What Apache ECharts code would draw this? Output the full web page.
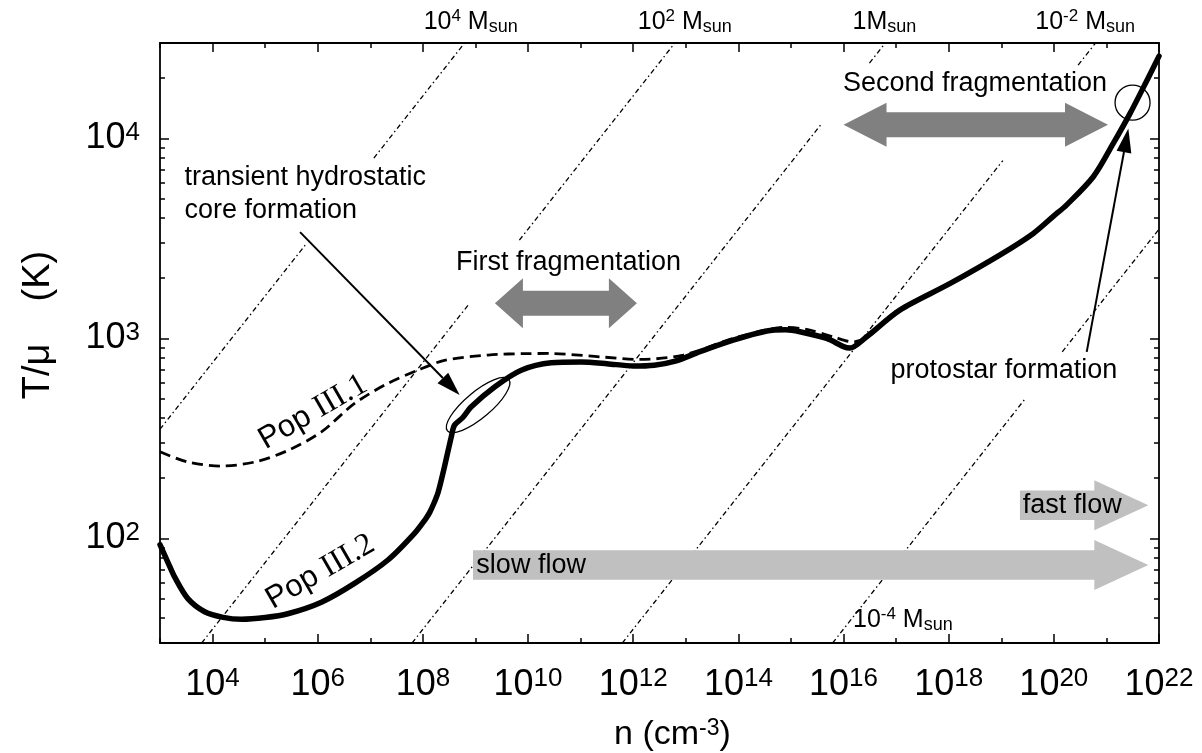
<!DOCTYPE html>
<html><head><meta charset="utf-8">
<script src="https://cdn.jsdelivr.net/npm/echarts@6/dist/echarts.min.js"></script>
<style>html,body{margin:0;padding:0;background:#fff}#c{width:1202px;height:753px}</style>
</head><body><div id="c"></div>
<script>
// ---------------- data (log10 n  and  T/mu in K) ----------------
const pop2LogN = [3.0,3.15,3.28,3.53,3.85,4.2,4.55,5.0,5.43,6.07,6.7,7.335,7.84,8.05,8.13,8.22,8.29,8.41,8.54,8.6,8.75,8.92,9.37,9.87,10.44,11.0,11.5,12.0,12.4,12.8,13.27,13.9,14.54,14.9,15.17,15.68,16.0,16.12,16.44,17.07,18.02,18.97,19.61,20.0,20.24,20.75,21.13,21.45,21.77,22.0];
const pop2T    = [93,76,64,50,43,40.3,39.4,40.2,42,48,59.6,78,106,125,135,152,170,228,322,368,400,455,573,693,755,762,748,728,735,770,858,980,1090,1105,1080,1000,910,895,1019,1385,1878,2610,3350,4100,4640,6430,9440,13340,19500,25800];

const pop1LogN = [3.0,3.53,4.16,4.8,5.43,6.07,6.7,7.335,7.9,8.41,9.24,10.0,10.41,11.36,12.12,12.95,13.9,14.5,14.85,15.3,15.8,16.18,16.5,17.0];
const pop1T    = [271,241,230,241,275,341,473,596,693,776,826,840,841,809,785,826,1000,1100,1135,1110,1019,961,1035,1370];

// constant Jeans-mass lines (dash-dot), drawn as visible segments [logn, T]
const jeansMass = ['10^4','10^2','1','10^-2','10^-4'];
const jeansSegLogN = [
  [[3.0, 5.76],   [7.067, 8.793]],
  [[3.792, 8.861],[9.835, 12.792]],
  [[7.794, 15.578],[16.493, 16.794]],
  [[11.793, 19.03],[20.462, 20.793]],
  [[15.792, 19.46],[20.16, 22.0]]
];
const jeansSegT = [
  [[351.6, 2924], [7973, 30000]],
  [[30, 1468],    [3099, 30000]],
  [[30, 11796],   [23800, 30000]],
  [[30, 7751],    [23260, 30000]],
  [[30, 501],     [857, 3516]]
];
// mass-label anchors
const massLabelLogN = [8.909, 12.981, 16.777, 20.595, 16.18];
const massLabelT    = [38150, 38150, 38150, 38150, 39];

// axis ticks
const xMajorExp = [4,6,8,10,12,14,16,18,20,22];
const xMinorExp = [3,5,7,9,11,13,15,17,19,21];
const yMajor = [100,1000,10000];
const yMinor = [40,50,60,70,80,90,200,300,400,500,600,700,800,900,2000,3000,4000,5000,6000,7000,8000,9000,20000,30000];

// block arrows
const fragArrowLogN = [[9.37, 12.07],[16.0, 21.03]];
const fragArrowT = [1500, 11720];
const flowArrowLogN = [[8.953, 21.797],[19.355, 21.797]];
const flowArrowT = [73.6, 146.7];

// pointer arrows [start, tip]
const pointerLogN = [[5.664, 8.699],[20.625, 21.417]];
const pointerT = [[3400, 520.6],[857, 11220]];

// rings: ellipse and circle centres
const ringLogN = [9.05, 21.497];
const ringT = [464, 15100];

// annotation texts
const noteTexts = ['transient hydrostatic\ncore formation','First fragmentation','Second fragmentation','protostar formation','slow flow','fast flow'];
const noteLogN = [3.466, 10.771, 18.5, 19.05, 9.017, 19.41];
const noteT = [5297, 2390, 18770, 692, 73.6, 146.7];

const popTexts = ['Pop III.1','Pop III.2'];
const popLogN = [5.91, 6.05];
const popT = [428, 68];

// ---------------- chart ----------------
const FONT = '"Liberation Sans", Arial, Helvetica, sans-serif';
const SERIF = '"Liberation Serif", "Times New Roman", serif';
const P = v => Math.pow(10, v);
const el = document.getElementById('c');
const chart = echarts.init(el, null, {renderer: 'canvas'});

const tickRich = {
  b: {fontSize: 36, lineHeight: 38, fontFamily: FONT, color: '#000'},
  s: {fontSize: 26, lineHeight: 4, verticalAlign: 'top', fontFamily: FONT, color: '#000'}
};
const expFmt = v => '{b|10}{s|' + Math.round(Math.log10(v)) + '}';

function xAx(pos, vals, len, line, labels) {
  return {
    type: 'log', logBase: 10, min: 1e3, max: 1e22, position: pos, gridIndex: 0,
    axisLine: {show: line, onZero: false, lineStyle: {color: '#000', width: 1.8}},
    axisTick: {show: true, inside: true, length: len, customValues: vals, lineStyle: {color: '#000', width: 1.5}},
    axisLabel: labels ? {show: true, customValues: vals, formatter: expFmt, rich: tickRich, margin: 23} : {show: false},
    splitLine: {show: false}, minorTick: {show: false}
  };
}
function yAx(pos, vals, len, line, labels) {
  return {
    type: 'log', logBase: 10, min: 30, max: 30000, position: pos, gridIndex: 0,
    axisLine: {show: line, onZero: false, lineStyle: {color: '#000', width: 1.8}},
    axisTick: {show: true, inside: true, length: len, customValues: vals, lineStyle: {color: '#000', width: 1.5}},
    axisLabel: labels ? {show: true, customValues: vals, formatter: expFmt, rich: tickRich, margin: 20} : {show: false},
    splitLine: {show: false}, minorTick: {show: false}
  };
}

const xMaj = xMajorExp.map(P), xMin = xMinorExp.map(P);
const xAxes = [xAx('bottom', xMaj, 9, true, true), xAx('bottom', xMin, 5, false, false),
               xAx('top', xMaj, 9, true, false), xAx('top', xMin, 5, false, false)];
xAxes[0].name = '{n|n (cm}{s|-3}{n|)}';
xAxes[0].nameLocation = 'middle';
xAxes[0].nameGap = 74;
xAxes[0].nameTextStyle = {padding: [0, 0, 0, 26], rich: {
  n: {fontSize: 34, lineHeight: 36, fontFamily: FONT, color: '#000'},
  s: {fontSize: 23, lineHeight: 24, verticalAlign: 'top', fontFamily: FONT, color: '#000'}}};
const yAxes = [yAx('left', yMajor, 9, true, true), yAx('left', yMinor, 5, false, false),
               yAx('right', yMajor, 9, true, false), yAx('right', yMinor, 5, false, false)];
yAxes[0].name = 'T/\u03bc    (K)';
yAxes[0].nameLocation = 'middle';
yAxes[0].nameRotate = 90;
yAxes[0].nameGap = 102;
yAxes[0].nameTextStyle = {fontSize: 38, fontFamily: FONT, color: '#000', padding: [0, 0, 0, 36]};

const series = [];
// Jeans lines
jeansSegLogN.forEach((segs, i) => {
  segs.forEach((seg, j) => {
    series.push({
      type: 'line', name: 'M=' + jeansMass[i] + ' Msun', xAxisIndex: 0, yAxisIndex: 0,
      data: [[P(seg[0]), jeansSegT[i][j][0]], [P(seg[1]), jeansSegT[i][j][1]]],
      symbol: 'none', silent: true, z: 1,
      lineStyle: {color: '#000', width: 1.3, type: [5, 3, 1.5, 3]}
    });
  });
});
// block arrows
function blockArrow(api, n1, n2, T, shaft, head, headLen, dbl, color) {
  const a = api.coord([n1, T]), b = api.coord([n2, T]);
  const y = a[1], x1 = a[0], x2 = b[0], s = shaft / 2, h = head / 2;
  let pts;
  if (dbl) pts = [[x1,y],[x1+headLen,y-h],[x1+headLen,y-s],[x2-headLen,y-s],[x2-headLen,y-h],[x2,y],
                  [x2-headLen,y+h],[x2-headLen,y+s],[x1+headLen,y+s],[x1+headLen,y+h]];
  else pts = [[x1,y-s],[x2-headLen,y-s],[x2-headLen,y-h],[x2,y],[x2-headLen,y+h],[x2-headLen,y+s],[x1,y+s]];
  return {type: 'polygon', shape: {points: pts}, style: {fill: color}};
}
const fragSizes = [[25, 50, 28], [25, 44, 43]];
series.push({
  type: 'custom', name: 'fragmentation', xAxisIndex: 0, yAxisIndex: 0, z: 5, clip: false, silent: true,
  data: fragArrowLogN.map((r, i) => [P(r[0]), fragArrowT[i], P(r[1])]),
  encode: {x: [0, 2], y: 1},
  renderItem: (params, api) => {
    const sz = fragSizes[params.dataIndex];
    return blockArrow(api, api.value(0), api.value(2), api.value(1), sz[0], sz[1], sz[2], true, '#808080');
  }
});
series.push({
  type: 'custom', name: 'flow', xAxisIndex: 0, yAxisIndex: 0, z: 5, clip: false, silent: true,
  data: flowArrowLogN.map((r, i) => [P(r[0]), flowArrowT[i], P(r[1])]),
  encode: {x: [0, 2], y: 1},
  renderItem: (params, api) => blockArrow(api, api.value(0), api.value(2), api.value(1), 29.5, 50, 54, false, '#c0c0c0')
});
// pointer arrows
series.push({
  type: 'custom', name: 'pointers', xAxisIndex: 0, yAxisIndex: 0, z: 6, clip: false, silent: true,
  data: pointerLogN.map((r, i) => [P(r[0]), pointerT[i][0], P(r[1]), pointerT[i][1]]),
  encode: {x: [0, 2], y: [1, 3]},
  renderItem: (params, api) => {
    const a = api.coord([api.value(0), api.value(1)]), b = api.coord([api.value(2), api.value(3)]);
    const dx = b[0] - a[0], dy = b[1] - a[1], L = Math.sqrt(dx*dx + dy*dy);
    const ux = dx / L, uy = dy / L, hl = 24, hw = 7.5;
    const bx = b[0] - ux * hl, by = b[1] - uy * hl;
    return {type: 'group', children: [
      {type: 'line', shape: {x1: a[0], y1: a[1], x2: bx, y2: by}, style: {stroke: '#000', lineWidth: 2}},
      {type: 'polygon', shape: {points: [[b[0], b[1]], [bx - uy*hw, by + ux*hw], [bx + uy*hw, by - ux*hw]]}, style: {fill: '#000'}}
    ]};
  }
});
// rings
series.push({
  type: 'custom', name: 'rings', xAxisIndex: 0, yAxisIndex: 0, z: 7, clip: false, silent: true,
  data: ringLogN.map((v, i) => [P(v), ringT[i]]),
  encode: {x: 0, y: 1},
  renderItem: (params, api) => {
    const c = api.coord([api.value(0), api.value(1)]);
    if (params.dataIndex === 0) {
      return {type: 'ellipse', x: c[0], y: c[1], rotation: 40 * Math.PI / 180,
        shape: {cx: 0, cy: 0, rx: 40, ry: 13}, style: {fill: null, stroke: '#000', lineWidth: 1.3}};
    }
    return {type: 'circle', shape: {cx: c[0], cy: c[1], r: 17.5}, style: {fill: null, stroke: '#000', lineWidth: 1.3}};
  }
});
// curves
series.push({
  type: 'line', name: 'Pop III.1', xAxisIndex: 0, yAxisIndex: 0, z: 8,
  data: pop1LogN.map((v, i) => [P(v), pop1T[i]]), symbol: 'none', smooth: 0.3,
  lineStyle: {color: '#000', width: 2.8, type: [11, 6]}
});
series.push({
  type: 'line', name: 'Pop III.2', xAxisIndex: 0, yAxisIndex: 0, z: 9,
  data: pop2LogN.map((v, i) => [P(v), pop2T[i]]), symbol: 'none', smooth: 0.3,
  lineStyle: {color: '#000', width: 5.5, cap: 'round', join: 'round'}
});
// texts
const noteAlign = ['left','center','center','center','left','left'];
series.push({
  type: 'custom', name: 'notes', xAxisIndex: 0, yAxisIndex: 0, z: 10, clip: false, silent: true,
  data: noteLogN.map((v, i) => [P(v), noteT[i]]),
  encode: {x: 0, y: 1},
  renderItem: (params, api) => {
    const i = params.dataIndex, c = api.coord([api.value(0), api.value(1)]);
    return {type: 'text', x: c[0], y: c[1], style: {
      text: noteTexts[i], fontSize: 27, fontFamily: FONT, fill: '#000', lineHeight: 33,
      align: noteAlign[i], verticalAlign: 'middle', textAlign: noteAlign[i], textVerticalAlign: 'middle'}};
  }
});
series.push({
  type: 'custom', name: 'pops', xAxisIndex: 0, yAxisIndex: 0, z: 10, clip: false, silent: true,
  data: popLogN.map((v, i) => [P(v), popT[i]]),
  encode: {x: 0, y: 1},
  renderItem: (params, api) => {
    const i = params.dataIndex, c = api.coord([api.value(0), api.value(1)]);
    const parts = popTexts[i].split(' ');
    return {type: 'text', x: c[0], y: c[1], rotation: 30 * Math.PI / 180, style: {
      text: '{p|' + parts[0] + ' }{r|' + parts[1] + '}',
      rich: {p: {fontSize: 31, fontFamily: FONT, fill: '#000', color: '#000'},
             r: {fontSize: 32, fontFamily: SERIF, fill: '#000', color: '#000'}},
      align: 'center', verticalAlign: 'middle', textAlign: 'center', textVerticalAlign: 'middle'}};
  }
});
const massRich = {
  m: {fontSize: 25, lineHeight: 28, fontFamily: FONT, fill: '#000', color: '#000'},
  ms: {fontSize: 17, lineHeight: 20, verticalAlign: 'top', fontFamily: FONT, fill: '#000', color: '#000'},
  sub: {fontSize: 18, lineHeight: 22, verticalAlign: 'bottom', fontFamily: FONT, fill: '#000', color: '#000'}
};
function massText(lbl) {
  const parts = lbl.split('^');
  const head = parts.length > 1 ? '{m|10}{ms|' + parts[1] + '}{m| M}' : '{m|' + lbl + 'M}';
  return head + '{sub|sun}';
}
series.push({
  type: 'custom', name: 'masses', xAxisIndex: 0, yAxisIndex: 0, z: 10, clip: false, silent: true,
  data: massLabelLogN.map((v, i) => [P(v), massLabelT[i]]),
  encode: {x: 0, y: 1},
  renderItem: (params, api) => {
    const i = params.dataIndex, c = api.coord([api.value(0), api.value(1)]);
    const al = i === 4 ? 'left' : 'center';
    return {type: 'text', x: c[0], y: c[1], style: {
      text: massText(jeansMass[i]), rich: massRich,
      align: al, verticalAlign: 'middle', textAlign: al, textVerticalAlign: 'middle'}};
  }
});

chart.setOption({
  animation: false,
  backgroundColor: '#fff',
  grid: {left: 160, right: 43, top: 43, bottom: 110, containLabel: false, outerBoundsMode: 'none'},
  xAxis: xAxes,
  yAxis: yAxes,
  series: series
});
</script></body></html>
